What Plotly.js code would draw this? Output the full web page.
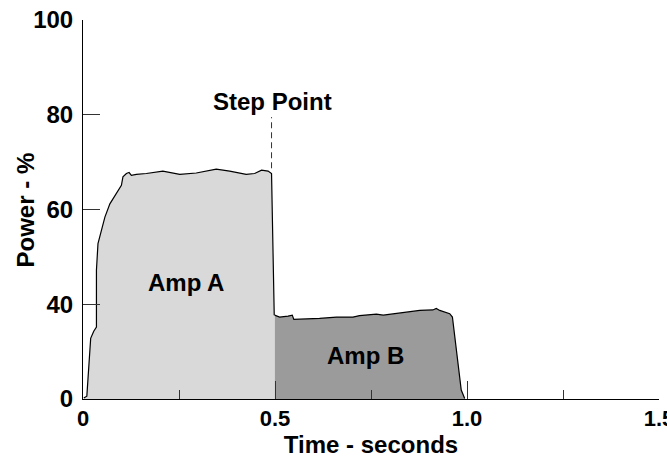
<!DOCTYPE html>
<html>
<head>
<meta charset="utf-8">
<script src="https://cdn.plot.ly/plotly-3.0.1.min.js"></script>
<style>html,body{margin:0;padding:0;background:#fff;}#chart{width:667px;height:469px;}</style>
</head>
<body>
<div id="chart"></div>
<script>
// Values read in the chart's axis units (the bottom edge of the plot, labelled "0", sits at 20 on the 40-100 scale)
var ampATime  = [0.002, 0.010, 0.020, 0.028, 0.035, 0.035, 0.039, 0.048, 0.057, 0.070, 0.087, 0.100, 0.104, 0.113, 0.120, 0.126, 0.139, 0.165, 0.208, 0.252, 0.295, 0.347, 0.382, 0.425, 0.447, 0.465, 0.482, 0.491, 0.498];
var ampAPower = [20.2, 20.6, 32.8, 34.3, 35.2, 47.2, 52.8, 55.6, 58.4, 61.2, 63.4, 65.1, 66.9, 67.6, 67.8, 67.2, 67.4, 67.6, 68.1, 67.4, 67.7, 68.5, 68.1, 67.4, 67.6, 68.3, 68.1, 67.6, 37.7];

var ampBTime  = [0.499, 0.512, 0.534, 0.545, 0.549, 0.616, 0.660, 0.703, 0.720, 0.764, 0.782, 0.859, 0.877, 0.911, 0.920, 0.929, 0.955, 0.962, 0.964, 0.985, 0.994];
var ampBPower = [37.7, 37.3, 37.5, 37.7, 36.8, 37.0, 37.3, 37.3, 37.6, 37.9, 37.7, 38.4, 38.7, 38.8, 39.1, 38.7, 38.0, 37.3, 35.9, 21.9, 20.1];

var stepTime  = [0.491, 0.491];
var stepPower = [68.7, 79.5];

var xTickVals  = [0, 0.5, 1.0, 1.5];
var xTickText  = ['0', '0.5', '1.0', '1.5'];
var xMinorVals = [0.25, 0.75, 1.25];
var yTickVals  = [20, 40, 60, 80, 100];
var yTickText  = ['0', '40', '60', '80', '100'];

var boldFont = {family: 'Liberation Sans, Arial, sans-serif', color: '#000', weight: 'bold'};
function f(size) { return Object.assign({}, boldFont, {size: size}); }

var traces = [
  {x: ampATime, y: ampAPower, type: 'scatter', mode: 'lines', fill: 'tozeroy',
   fillcolor: '#d9d9d9', line: {color: '#000', width: 1.2}, hoverinfo: 'skip', name: 'Amp A'},
  {x: ampBTime, y: ampBPower, type: 'scatter', mode: 'lines', fill: 'tozeroy',
   fillcolor: '#9b9b9b', line: {color: '#000', width: 1.2}, hoverinfo: 'skip', name: 'Amp B'},
  {x: stepTime, y: stepPower, type: 'scatter', mode: 'lines',
   line: {color: '#333', width: 1, dash: '6px,4px'}, hoverinfo: 'skip', name: 'Step'}
];

var layout = {
  width: 667, height: 469,
  margin: {l: 83, r: 8, t: 20, b: 70, pad: 0},
  paper_bgcolor: '#fff', plot_bgcolor: '#fff',
  showlegend: false,
  xaxis: {
    range: [0, 1.5], tickmode: 'array', tickvals: xTickVals, ticktext: xTickText,
    ticks: 'inside', ticklen: 18, tickwidth: 1, tickcolor: '#333',
    minor: {tickmode: 'array', tickvals: xMinorVals, ticks: 'inside', ticklen: 9, tickcolor: '#333', tickwidth: 1},
    showline: true, linecolor: '#000', linewidth: 1, showgrid: false, zeroline: false,
    tickfont: f(22), ticklabelstandoff: 0, ticklabeloverflow: 'allow',
    title: {text: 'Time - seconds', font: f(24), standoff: 5}
  },
  yaxis: {
    range: [20, 100], tickmode: 'array', tickvals: yTickVals, ticktext: yTickText,
    ticks: 'inside', ticklen: 17, tickwidth: 1, tickcolor: '#333',
    showline: true, linecolor: '#000', linewidth: 1, showgrid: false, zeroline: false,
    tickfont: f(24), ticklabelstandoff: 4, ticklabeloverflow: 'allow'
  },
  annotations: [
    {x: -0.099, y: 0.5, xref: 'paper', yref: 'paper', text: 'Power - %', textangle: -90,
     showarrow: false, font: f(24), xanchor: 'center', yanchor: 'middle'},
    {x: 0.267, y: 44.6, xref: 'x', yref: 'y', text: 'Amp A', showarrow: false, font: f(24)},
    {x: 0.736, y: 29.2, xref: 'x', yref: 'y', text: 'Amp B', showarrow: false, font: f(24)},
    {x: 0.493, y: 82.9, xref: 'x', yref: 'y', text: 'Step Point', showarrow: false, font: f(24)}
  ]
};

Plotly.newPlot('chart', traces, layout, {displayModeBar: false, staticPlot: true});
</script>
</body>
</html>
